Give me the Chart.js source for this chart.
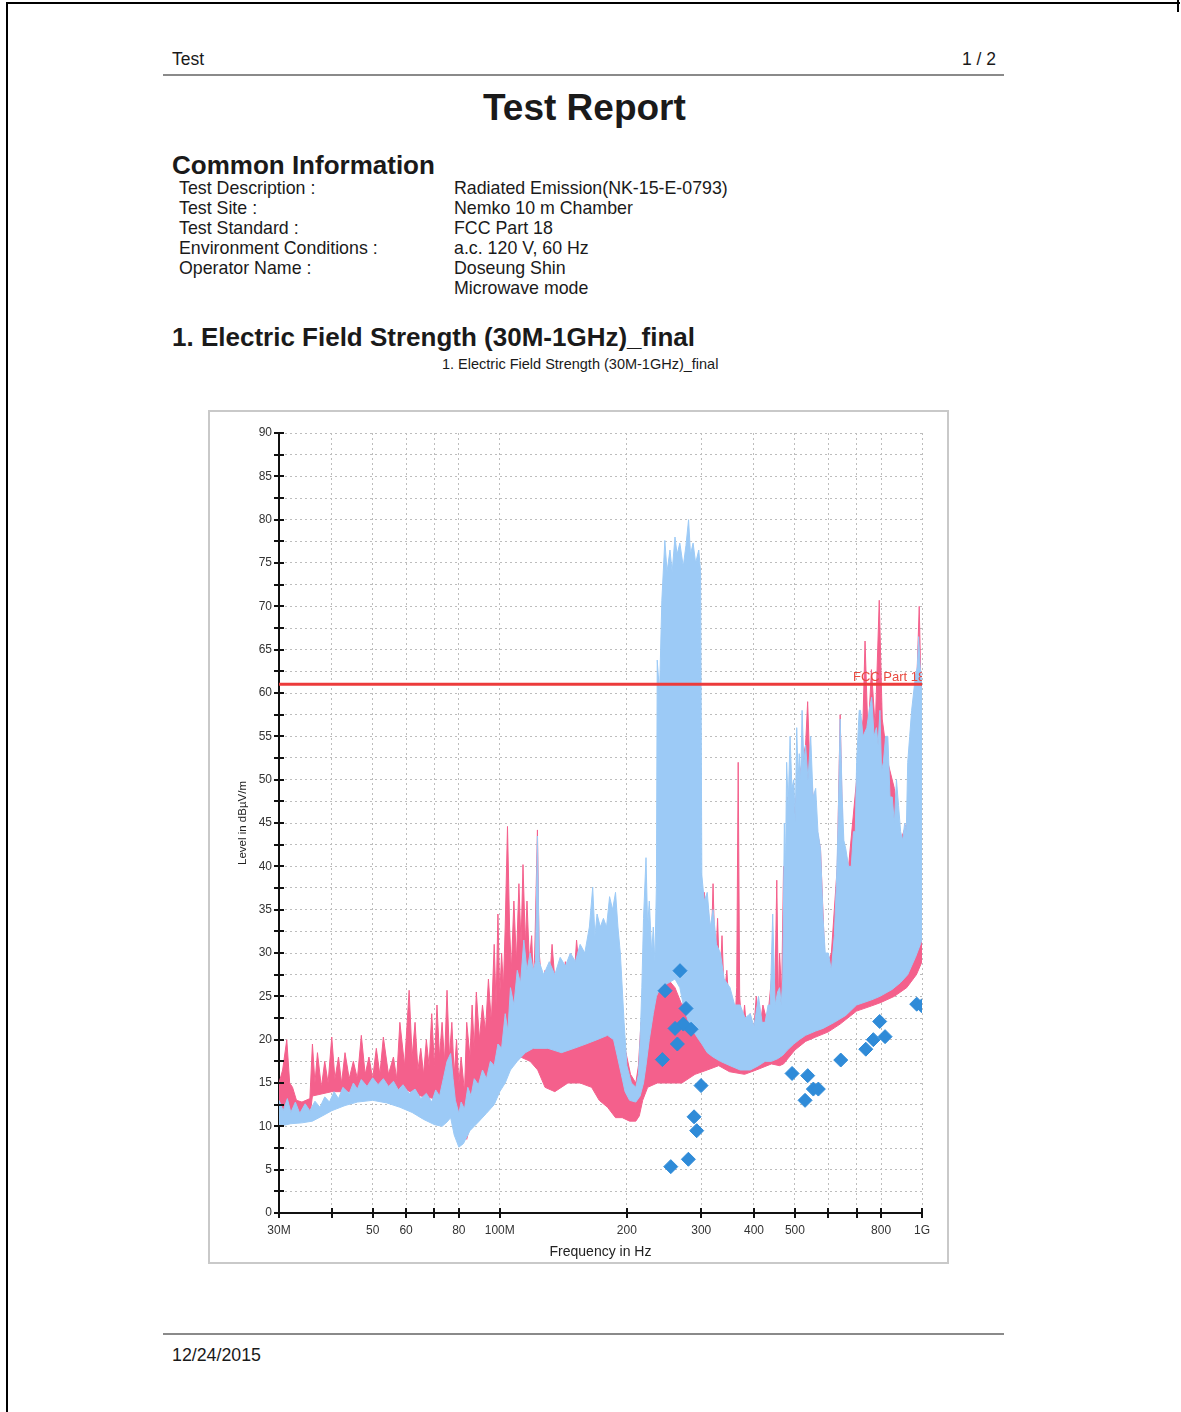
<!DOCTYPE html>
<html lang="en">

<head>
    <meta charset="UTF-8">
    <title>Test Report</title>
    <style>
        body { margin: 0; background: #fff; font-family: "Liberation Sans", Arial, sans-serif; color: #1a1a1a; }
        .page { position: relative; width: 1181px; height: 1412px; overflow: hidden; }
        .t { position: absolute; white-space: nowrap; line-height: 1; }
        .info { font-size: 17.8px; }
        .rule { position: absolute; height: 0; border-top: 2px solid #8a8a8a; }
        .frame { position: absolute; left: 208px; top: 410px; width: 741px; height: 854px; box-sizing: border-box; border: 2px solid #c9c9c9; }
        .edge { position: absolute; left: 6px; top: 2px; width: 1172px; height: 1420px; border-left: 2px solid #000; border-top: 2px solid #000; }
        .edge2 { position: absolute; left: 1177px; top: 0; width: 2px; height: 12px; background: #000; }
    </style>
</head>

<body>
    <div class="page">
        <div class="edge"></div>
        <div class="edge2"></div>

        <div class="t" style="left:172px;top:51px;font-size:17.5px;">Test</div>
        <div class="t" style="left:962px;top:51px;font-size:17.5px;">1 / 2</div>
        <div class="rule" style="left:163px;top:74px;width:841px;"></div>

        <div class="t" style="left:483px;top:89px;font-size:37px;font-weight:bold;">Test Report</div>

        <div class="t" style="left:172px;top:152px;font-size:26px;font-weight:bold;">Common Information</div>
        <div class="t info" style="left:179px;top:180px;">Test Description :</div>
        <div class="t info" style="left:179px;top:200px;">Test Site :</div>
        <div class="t info" style="left:179px;top:220px;">Test Standard :</div>
        <div class="t info" style="left:179px;top:240px;">Environment Conditions :</div>
        <div class="t info" style="left:179px;top:260px;">Operator Name :</div>
        <div class="t info" style="left:454px;top:180px;">Radiated Emission(NK-15-E-0793)</div>
        <div class="t info" style="left:454px;top:200px;">Nemko 10 m Chamber</div>
        <div class="t info" style="left:454px;top:220px;">FCC Part 18</div>
        <div class="t info" style="left:454px;top:240px;">a.c. 120 V, 60 Hz</div>
        <div class="t info" style="left:454px;top:260px;">Doseung Shin</div>
        <div class="t info" style="left:454px;top:280px;">Microwave mode</div>

        <div class="t" style="left:172px;top:324px;font-size:26px;font-weight:bold;">1. Electric Field Strength (30M-1GHz)_final</div>
        <div class="t" style="left:442px;top:357px;font-size:14.5px;">1. Electric Field Strength (30M-1GHz)_final</div>

        <div class="frame">
            <canvas id="chart" width="737" height="850"></canvas>
        </div>

        <div class="rule" style="left:163px;top:1333px;width:841px;"></div>
        <div class="t info" style="left:172px;top:1347px;">12/24/2015</div>
    </div>

    <script src="https://cdn.jsdelivr.net/npm/chart.js@4/dist/chart.umd.min.js"></script>
    <script>
        // x ticks (MHz) and their labels
        const xTickValues = [30, 40, 50, 60, 70, 80, 100, 200, 300, 400, 500, 600, 700, 800, 1000]
        const xTickLabels = ['30M', '', '50', '60', '', '80', '100M', '200', '300', '400', '500', '', '', '800', '1G']

        // blue trace, read as the top and the bottom edge of its noise band (MHz, dBuV/m)
        const blueTopFreq = [30, 30.7, 31.4, 32, 32.8, 33.6, 34.6, 35.5, 36.5, 37.5, 38.5, 39.5, 40.5, 41.5, 42.5, 44, 45, 46, 47, 48.5,
            50, 51.5, 53, 54.5, 56, 57.5, 59, 61, 63, 65, 67, 69, 70.5, 72, 73.5, 75, 76.5, 77.5, 78.5, 80,
            81, 82.5, 84, 85.5, 87, 89, 91, 93, 95, 97, 99, 101, 103, 104.5, 106, 108, 110, 112, 114, 116,
            118, 120, 121.5, 122.8, 124, 127, 131, 135, 139, 143, 147, 151, 155, 159, 163, 166, 168, 170, 173, 176,
            179, 182, 185, 188, 190.5, 193, 197, 200, 205, 210, 213, 215, 217, 219, 222, 224, 226, 229, 231, 233,
            235, 236, 239, 242, 246, 249, 253, 256, 260, 263, 267, 272, 276, 280, 283, 287, 291, 296, 299, 301,
            305, 310, 315, 320, 326, 333, 340, 351, 360, 371, 381, 392, 400, 410, 418, 425, 432, 437, 443, 449,
            455, 460, 464, 468, 472, 475, 478, 482, 487, 492, 497, 501, 505, 509, 512, 516, 520, 525, 530, 537,
            545, 552, 560, 567, 575, 583, 590, 600, 610, 620, 627, 633, 640, 647, 653, 660, 670, 680, 688, 695,
            700, 705, 710, 715, 725, 740, 750, 760, 770, 780, 787, 795, 802, 810, 820, 830, 840, 850, 860, 870,
            880, 890, 900, 910, 918, 925, 935, 945, 955, 965, 975, 982, 990, 995, 1000]
        const blueTop = [13, 11.8, 13.2, 11.6, 12.8, 11.5, 12.6, 11.8, 12.9, 12.2, 13.4, 12.8, 14, 13.2, 14.5, 13.8, 15, 14.3, 15.4, 14.6,
            15.6, 14.8, 15.5, 14.6, 15.2, 14.2, 14.8, 13.8, 14.3, 13.2, 13.8, 12.8, 14.2, 13.5, 15.5, 17.5, 18.4, 15.5, 13, 11.5,
            12.8, 12, 14.5, 13.5, 15.5, 14.8, 16.5, 15.5, 17.5, 17, 19.5, 19, 23, 21, 26, 24, 28, 26.5, 31.5, 28,
            30, 28, 29, 43.5, 29, 27.5, 29, 27.5, 29.5, 28.5, 30, 29, 31, 30, 33, 37.6, 32, 34.5, 33, 34,
            33, 36.5, 35, 37, 33, 30, 22, 17, 15, 14.5, 16, 20, 26, 34, 41, 33, 36, 30, 33, 29,
            38, 63.8, 60, 70.7, 77.6, 74, 76.5, 74, 78, 76, 77.3, 74.6, 77, 80, 76, 77.3, 75, 76.5, 74, 39,
            36, 37, 33, 35, 31, 30, 27, 26, 24, 24, 22.5, 23, 21.5, 25, 22, 22, 24, 24, 34.5, 24,
            25.5, 26, 24, 27, 45, 40, 52, 47, 55, 49, 50, 45, 56, 50, 53, 50, 58, 52, 54, 50,
            55, 48, 49, 44, 42, 34, 30, 30, 28, 32, 38, 45, 57, 48, 43, 42, 40, 40, 44, 44,
            52, 55, 58, 58, 55, 56, 58, 59.5, 55, 56, 54, 58, 51, 52, 55, 55, 48, 48, 45, 50,
            47, 44, 43, 45, 44, 52, 55, 58, 60, 62, 63, 66.5, 63, 62, 60]
        const blueBottomFreq = [30, 32, 34, 36, 38, 40, 43, 46, 50, 54, 58, 62, 66, 70, 73, 75, 76.5, 78, 80, 82,
            85, 89, 93, 97, 100, 103, 106, 110, 115, 120, 130, 140, 150, 160, 170, 180, 186, 190, 194, 198,
            203, 210, 215, 219, 222, 226, 231, 235, 240, 250, 260, 267, 272, 280, 287, 296, 301, 310, 320, 333,
            351, 371, 392, 410, 425, 440, 455, 468, 480, 497, 512, 530, 560, 583, 620, 660, 700, 760, 795, 850,
            890, 925, 965, 1000]
        const blueBottom = [10, 10.3, 10.4, 10.6, 11.2, 11.8, 12.4, 12.8, 13, 12.7, 12.2, 11.6, 10.8, 10.2, 10, 10.5, 11, 9, 7.6, 8,
            9.5, 10.5, 11.5, 12.5, 14, 15, 16.5, 17.5, 18.5, 19, 19, 18.5, 19, 19.5, 20, 20.5, 20, 18, 16, 14,
            13, 12.8, 13.5, 15, 17, 20, 23, 25, 26, 26.5, 27, 26, 24, 22, 21, 20, 19.5, 18.5, 18, 17.5,
            17, 16.5, 16.5, 17, 17.5, 17.5, 17.8, 18.2, 18.8, 19.5, 20, 20.5, 21, 21.3, 22, 22.8, 24, 24.6, 25, 25.8,
            26.6, 27.5, 29.5, 31.5]

        // pink trace, same reading
        const pinkTopFreq = [30, 30.6, 31.3, 31.8, 32.3, 33, 34, 35.5, 36, 36.5, 37, 37.8, 38.5, 39.2, 40, 40.7, 41.5, 42.2, 43, 44,
            45, 46, 47, 48, 49, 50, 51, 52, 53, 54.5, 56, 57, 58, 59.5, 61, 62, 63, 64, 65, 66,
            67, 68, 69, 70, 71, 72, 73, 74, 75, 76, 77, 78, 79, 80, 81, 82.5, 83.5, 85, 86, 87,
            88, 89.5, 91, 92.5, 94, 95.5, 97, 98, 99, 100, 101, 102, 103, 104.3, 105.5, 106.5, 108, 109.5, 111, 112.3,
            113.5, 115, 116, 117.5, 119, 120, 121, 122.8, 124, 126, 128, 130.5, 133, 135.5, 138, 140.5, 143, 145, 147, 149.5,
            152, 155, 158, 161, 164, 167, 170, 173, 176, 179, 182, 185, 188, 190.5, 193, 198, 204, 210, 213, 216,
            218, 220, 222.5, 225, 227.5, 230, 233, 236, 242, 250, 260, 270, 280, 290, 300, 302, 305, 308, 312, 316,
            320, 324, 328, 332, 336, 340, 345, 350, 355, 360, 364, 367, 370, 375, 380, 386, 392, 398, 405, 412,
            420, 430, 440, 447, 453, 457, 460, 465, 470, 475, 480, 485, 490, 500, 510, 520, 530, 536, 542, 560,
            575, 590, 610, 630, 640, 650, 670, 700, 725, 733, 745, 759, 775, 792, 805, 830, 860, 890, 920, 950,
            970, 985, 995, 1000]
        const pinkTop = [15, 16.5, 20, 15, 14.5, 13, 12.8, 13.2, 19.5, 15, 18.5, 14.5, 17.5, 15, 20.3, 15.5, 18, 15, 18.5, 15.5,
            17.5, 15.5, 20.5, 16, 18, 15.5, 19, 16, 20.3, 16, 18, 15.5, 22, 17, 25.7, 18, 22, 16.5, 19, 16,
            20, 17, 23, 17, 24, 18, 22, 17.5, 25.7, 18, 22, 16, 20, 15, 18, 14, 22, 18, 24, 19,
            25.5, 20, 24, 21, 27, 22, 31, 24, 34.5, 25, 30, 26, 33, 44.6, 33, 28, 36, 29, 38, 31,
            40.2, 31, 36, 29, 32, 27, 30, 44.2, 30, 26, 28, 25, 31, 26, 27, 25, 29, 26, 30, 26,
            31.5, 27, 28, 26, 30, 25, 26, 24, 28, 24, 25, 22, 24, 20, 21, 19, 16, 15, 17, 22,
            19, 26, 22, 28, 23, 27, 24, 28.5, 30, 27, 26, 24, 25, 27, 39, 30, 37, 29, 35, 28,
            38, 28, 34, 26, 32, 25, 28, 23, 24, 21, 26, 52, 25, 21, 24, 20, 23, 20, 25, 21,
            24, 22, 27, 22, 38.4, 24, 30, 25, 40, 30, 48, 35, 45, 47, 50, 52, 54, 59, 52, 45,
            42, 28, 30, 40, 57.5, 42, 40, 50, 57, 66, 55, 62.7, 56, 70.7, 57, 52, 49, 43, 45, 52,
            60, 70, 60, 55]
        const pinkBottomFreq = [30, 32, 33, 35.5, 36, 40, 45, 50, 55, 60, 65, 70, 75, 78, 81, 83.5, 86, 90, 95, 100,
            105, 112, 118, 123, 128, 135, 145, 155, 165, 172, 180, 188, 195, 203, 210, 214, 218, 224, 236, 250,
            270, 290, 310, 330, 350, 380, 405, 440, 460, 470, 500, 530, 560, 600, 640, 700, 760, 800, 860, 920,
            970, 1000]
        const pinkBottom = [11.5, 11.5, 11, 11.2, 13.5, 14, 14, 14.3, 14.2, 14.2, 13.5, 13.2, 13.5, 12, 10, 8.5, 11, 12.5, 14.5, 15.5,
            16.5, 18, 17.5, 16.5, 14.5, 14, 15, 15, 14.5, 13, 12.2, 11, 11, 10.6, 10.6, 11.2, 13, 14.5, 15, 15,
            15, 16, 16.5, 17, 16.3, 16, 16.5, 17.2, 17, 17.2, 18.8, 19.8, 20.3, 20.9, 21.8, 23.3, 23.9, 24.3, 25, 26,
            27.5, 29]

        // limit line
        const limitFreq = [30, 1000]
        const limitLevel = [61, 61]
        const limitName = 'FCC Part 18'

        // final measurement points
        const markerFreq = [242.7, 246.3, 254.1, 260.1, 263.4, 267.2, 272.1, 276.1, 279.7, 283.8, 288.5, 292.7, 299.7,
            492.3, 528.5, 536.2, 552.9, 568.2, 642, 736, 766.9, 794, 817.6, 971.6, 998.5]
        const markerLevel = [17.7, 25.65, 5.35, 21.3, 19.5, 27.96, 21.8, 23.6, 6.2, 21.2, 11.1, 9.5, 14.7,
            16.1, 13.0, 15.85, 14.3, 14.3, 17.65, 18.9, 20.0, 22.1, 20.35, 24.1, 23.9]

        const pts = (xs, ys) => xs.map((x, i) => ({ x: x, y: ys[i] }))

        const pink = '#f4608c'
        const blue = '#9ccaf6'
        const font = '"Liberation Sans", Arial'

        const extras = {
            id: 'extras',
            afterDraw(chart) {
                const { ctx, chartArea, scales: { x, y } } = chart
                ctx.save()
                // tick marks crossing the axes
                ctx.strokeStyle = '#111'
                ctx.lineWidth = 2
                ctx.beginPath()
                y.ticks.forEach(t => {
                    const py = Math.round(y.getPixelForValue(t.value))
                    ctx.moveTo(chartArea.left - 5, py)
                    ctx.lineTo(chartArea.left + 5, py)
                })
                x.ticks.forEach(t => {
                    const px = Math.round(x.getPixelForValue(t.value))
                    ctx.moveTo(px, chartArea.bottom - 5)
                    ctx.lineTo(px, chartArea.bottom + 5)
                })
                ctx.stroke()

                // axis titles
                ctx.fillStyle = '#222'
                ctx.font = '11.5px ' + font
                ctx.textAlign = 'center'
                ctx.textBaseline = 'middle'
                ctx.save()
                ctx.translate(33, (chartArea.top + chartArea.bottom) / 2)
                ctx.rotate(-Math.PI / 2)
                ctx.fillText('Level in dBµV/m', 0, 0)
                ctx.restore()
                ctx.font = '14px ' + font
                ctx.fillText('Frequency in Hz', (chartArea.left + chartArea.right) / 2, chartArea.bottom + 39)

                // limit name, cut at the plot edge
                ctx.beginPath()
                ctx.rect(chartArea.left, chartArea.top, chartArea.right - chartArea.left, chartArea.bottom - chartArea.top)
                ctx.clip()
                ctx.fillStyle = '#e8493f'
                ctx.font = '13px ' + font
                ctx.textAlign = 'left'
                ctx.textBaseline = 'alphabetic'
                ctx.fillText(limitName, chartArea.right - 69, y.getPixelForValue(limitLevel[0]) - 3)
                ctx.restore()
            }
        }

        const ctx = document.getElementById('chart').getContext('2d')

        new Chart(ctx, {
            type: 'line',
            data: {
                datasets: [
                    {
                        data: pts(markerFreq, markerLevel),
                        showLine: false,
                        pointStyle: 'rectRot',
                        pointRadius: 7,
                        backgroundColor: '#2f8bd8',
                        borderColor: '#2f8bd8',
                        order: 0
                    },
                    {
                        data: pts(limitFreq, limitLevel),
                        borderColor: '#ec3b3b',
                        borderWidth: 3,
                        pointRadius: 0,
                        order: 1
                    },
                    {
                        data: pts(blueTopFreq, blueTop),
                        borderColor: blue,
                        borderWidth: 1,
                        pointRadius: 0,
                        order: 2
                    },
                    {
                        data: pts(blueBottomFreq, blueBottom),
                        borderColor: blue,
                        borderWidth: 1,
                        backgroundColor: blue,
                        fill: '-1',
                        pointRadius: 0,
                        order: 2
                    },
                    {
                        data: pts(pinkTopFreq, pinkTop),
                        borderColor: pink,
                        borderWidth: 1,
                        pointRadius: 0,
                        order: 3
                    },
                    {
                        data: pts(pinkBottomFreq, pinkBottom),
                        borderColor: pink,
                        borderWidth: 1,
                        backgroundColor: pink,
                        fill: '-1',
                        pointRadius: 0,
                        order: 3
                    }
                ]
            },
            options: {
                responsive: false,
                animation: false,
                layout: { padding: { top: 21, right: 25, left: 0, bottom: 0 } },
                plugins: { legend: { display: false }, tooltip: { enabled: false } },
                scales: {
                    x: {
                        type: 'logarithmic',
                        min: 30,
                        max: 1000,
                        afterBuildTicks: s => { s.ticks = xTickValues.map(v => ({ value: v })) },
                        afterFit: s => { s.height = 49 },
                        ticks: {
                            autoSkip: false,
                            maxRotation: 0,
                            padding: 10,
                            color: '#333',
                            font: { size: 12, family: font },
                            callback: v => xTickLabels[xTickValues.indexOf(v)] || ''
                        },
                        grid: { color: '#bdbdbd', lineWidth: 1, drawTicks: false },
                        border: { color: '#111', width: 2, dash: [2, 3] }
                    },
                    y: {
                        min: 0,
                        max: 90,
                        afterBuildTicks: s => {
                            const t = []
                            for (let v = 0; v <= 90; v += 2.5) t.push({ value: v })
                            s.ticks = t
                        },
                        afterFit: s => { s.width = 69 },
                        ticks: {
                            padding: 7,
                            color: '#333',
                            font: { size: 12, family: font },
                            callback: v => (v % 5 === 0 ? String(v) : '')
                        },
                        grid: { color: '#bdbdbd', lineWidth: 1, drawTicks: false },
                        border: { color: '#111', width: 2, dash: [2, 3] }
                    }
                }
            },
            plugins: [extras]
        })
    </script>
</body>

</html>
